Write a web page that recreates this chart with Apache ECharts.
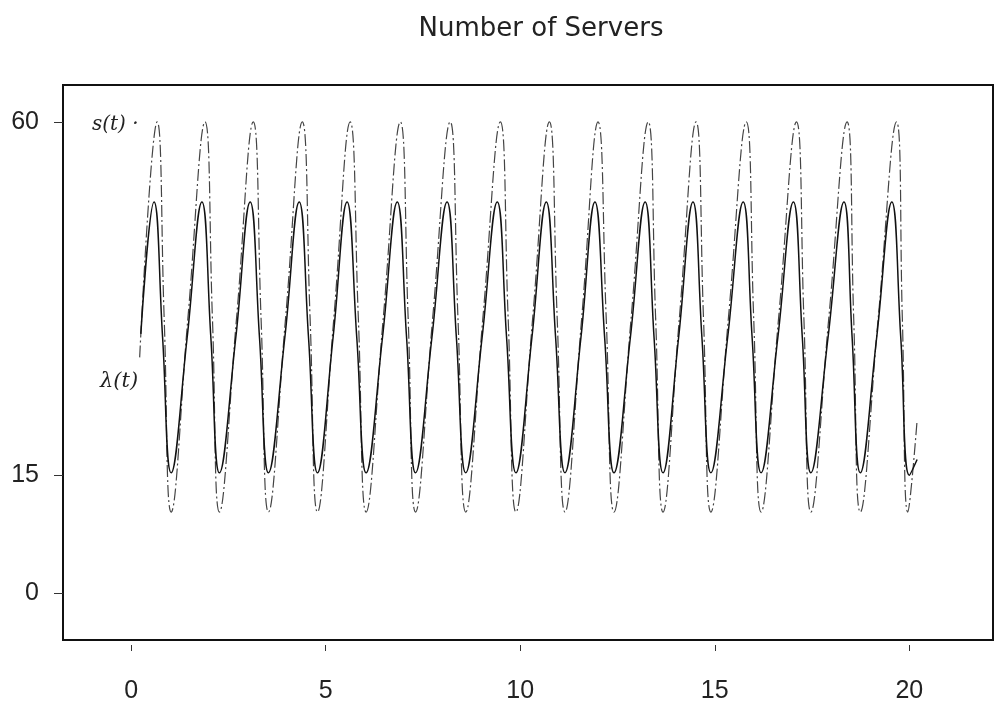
<!DOCTYPE html>
<html>
<head>
<meta charset="utf-8">
<title>Number of Servers</title>
<script src="https://cdn.jsdelivr.net/npm/echarts@6/dist/echarts.min.js"></script>
<style>
  html, body { margin: 0; padding: 0; background: #fff; }
  #chart { width: 1002px; height: 713px; }
</style>
</head>
<body>
<div id="chart"></div>
<script>
// tick labels
const xTicks = [0, 5, 10, 15, 20]
const yTicks = [0, 15, 60]

// s(t): number of servers (peak, mid fall, trough, mid rise per cycle)
const sTimes = [
  0.22,
  0.67, 0.85, 1.03, 1.46,
  1.90, 2.09, 2.27, 2.71,
  3.14, 3.34, 3.53, 3.97,
  4.40, 4.60, 4.79, 5.21,
  5.63, 5.84, 6.04, 6.48,
  6.92, 7.12, 7.31, 7.75,
  8.20, 8.40, 8.60, 9.04,
  9.49, 9.69, 9.89, 10.32,
  10.75, 10.95, 11.15, 11.58,
  12.00, 12.21, 12.41, 12.85,
  13.29, 13.48, 13.67, 14.09,
  14.52, 14.71, 14.90, 15.35,
  15.81, 16.00, 16.19, 16.64,
  17.10, 17.29, 17.47, 17.93,
  18.40, 18.57, 18.74, 19.20,
  19.67, 19.82, 19.96, 20.20
]
const sValues = [
  30,
  60, 35, 10.3, 35,
  60, 35, 10.3, 35,
  60, 35, 10.3, 35,
  60, 35, 10.3, 35,
  60, 35, 10.3, 35,
  60, 35, 10.3, 35,
  60, 35, 10.3, 35,
  60, 35, 10.3, 35,
  60, 35, 10.3, 35,
  60, 35, 10.3, 35,
  60, 35, 10.3, 35,
  60, 35, 10.3, 35,
  60, 35, 10.3, 35,
  60, 35, 10.3, 35,
  60, 35, 10.3, 35,
  60, 35, 10.3, 22
]

// lambda(t): arrival rate
const lamTimes = [
  0.25,
  0.59, 0.81, 1.03, 1.44,
  1.82, 2.05, 2.27, 2.69,
  3.06, 3.30, 3.53, 3.95,
  4.32, 4.56, 4.79, 5.19,
  5.55, 5.80, 6.04, 6.46,
  6.84, 7.08, 7.31, 7.73,
  8.12, 8.36, 8.60, 9.02,
  9.41, 9.65, 9.89, 10.30,
  10.67, 10.91, 11.15, 11.56,
  11.92, 12.17, 12.41, 12.83,
  13.21, 13.44, 13.67, 14.07,
  14.44, 14.67, 14.90, 15.33,
  15.73, 15.96, 16.19, 16.62,
  17.02, 17.25, 17.47, 17.91,
  18.32, 18.53, 18.74, 19.16,
  19.55, 19.78, 20.00, 20.20
]
const lamValues = [
  33,
  49.8, 32.5, 15.3, 32.5,
  49.8, 32.5, 15.3, 32.5,
  49.8, 32.5, 15.3, 32.5,
  49.8, 32.5, 15.3, 32.5,
  49.8, 32.5, 15.3, 32.5,
  49.8, 32.5, 15.3, 32.5,
  49.8, 32.5, 15.3, 32.5,
  49.8, 32.5, 15.3, 32.5,
  49.8, 32.5, 15.3, 32.5,
  49.8, 32.5, 15.3, 32.5,
  49.8, 32.5, 15.3, 32.5,
  49.8, 32.5, 15.3, 32.5,
  49.8, 32.5, 15.3, 32.5,
  49.8, 32.5, 15.3, 32.5,
  49.8, 32.5, 15.3, 32.5,
  49.8, 32.5, 15.0, 17
]

const sData = sTimes.map((t, i) => [t, sValues[i]])
const lamData = lamTimes.map((t, i) => [t, lamValues[i]])

const chart = echarts.init(document.getElementById('chart'))
const tickFont = { fontFamily: 'Liberation Sans', fontSize: 25, color: '#222' }

chart.setOption({
  animation: false,
  title: {
    text: 'Number of Servers',
    left: 536,
    top: 11,
    textAlign: 'center',
    textStyle: { fontFamily: 'DejaVu Sans', fontSize: 26, fontWeight: 'normal', color: '#222' }
  },
  grid: {
    left: 63,
    right: 9,
    top: 85,
    bottom: 73,
    show: true,
    borderColor: '#111',
    borderWidth: 2
  },
  xAxis: {
    type: 'value',
    min: -1.75,
    max: 22.15,
    offset: 5,
    axisLine: { show: false, onZero: false },
    splitLine: { show: false },
    axisTick: { show: true, length: 6, customValues: xTicks, lineStyle: { color: '#333' } },
    axisLabel: { customValues: xTicks, margin: 34, ...tickFont }
  },
  yAxis: {
    type: 'value',
    min: -6,
    max: 64.7,
    axisLine: { show: false, onZero: false },
    splitLine: { show: false },
    axisTick: { show: true, length: 9, customValues: yTicks, lineStyle: { color: '#333' } },
    axisLabel: { customValues: yTicks, margin: 24, ...tickFont }
  },
  graphic: [
    {
      type: 'text',
      left: 92,
      top: 115,
      style: { text: 's(t) ·', fontFamily: 'DejaVu Serif', fontStyle: 'italic', fontSize: 20, fill: '#222' }
    },
    {
      type: 'text',
      left: 100,
      top: 371,
      style: { text: 'λ(t)', fontFamily: 'DejaVu Serif', fontStyle: 'italic', fontSize: 21, fill: '#222' }
    }
  ],
  series: [
    {
      name: 's(t)',
      type: 'line',
      data: sData,
      smooth: 0.45,
      symbol: 'none',
      lineStyle: { color: '#444', width: 1.2, type: [12, 3, 2, 3] }
    },
    {
      name: 'λ(t)',
      type: 'line',
      data: lamData,
      smooth: 0.45,
      symbol: 'none',
      lineStyle: { color: '#111', width: 1.5 }
    }
  ]
})
</script>
</body>
</html>
